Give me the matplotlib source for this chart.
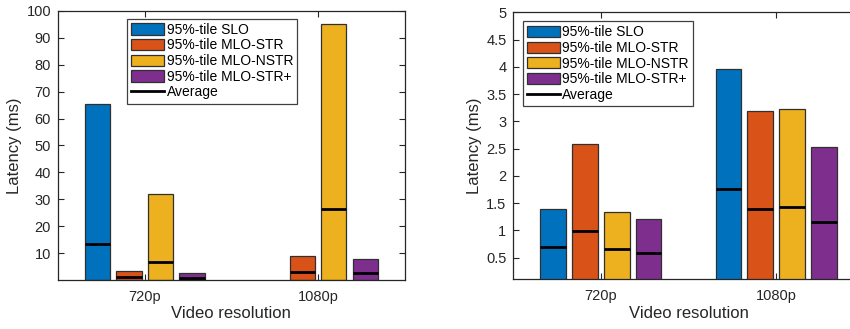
import numpy as np
import matplotlib
matplotlib.use("Agg")
import matplotlib.pyplot as plt
from matplotlib.patches import Patch
from matplotlib.lines import Line2D
from matplotlib.ticker import FuncFormatter

plt.rcParams['font.family'] = ['Liberation Sans', 'DejaVu Sans']

resolutions = ['720p', '1080p']
series = ['95%-tile SLO', '95%-tile MLO-STR', '95%-tile MLO-NSTR', '95%-tile MLO-STR+']
colors = ['#0072BD', '#D95319', '#EDB120', '#7E2F8E']

# End-to-end latency (ms): 95th percentile and average per scheme
p95_total = [
    [65.5, np.nan],   # SLO
    [3.5, 9.0],       # MLO-STR
    [31.9, 95.0],     # MLO-NSTR
    [2.5, 7.9],       # MLO-STR+
]
avg_total = [
    [13.5, np.nan],
    [1.1, 3.0],
    [6.7, 26.5],
    [0.55, 2.6],
]

# Processing latency (ms)
p95_proc = [
    [1.39, 3.96],
    [2.58, 3.19],
    [1.33, 3.23],
    [1.20, 2.52],
]
avg_proc = [
    [0.69, 1.755],
    [0.985, 1.395],
    [0.65, 1.42],
    [0.59, 1.157],
]

ink = '#262626'
fig = plt.figure(figsize=(8.5, 3.29), dpi=100)
ax1 = fig.add_axes([0.0682, 0.149, 0.408, 0.818])
ax2 = fig.add_axes([0.604, 0.151, 0.412, 0.8116])

n = len(series)
group_w = min(0.8, n / (n + 1.5))
step = group_w / n
bar_w = 0.8 * step
x = np.arange(1, len(resolutions) + 1)


def draw(ax, p95, avg, ylim, yticks, legend_anchor):
    for i in range(n):
        xs = x - group_w / 2 + step * (i + 0.5)
        ax.bar(xs, p95[i], width=bar_w, color=colors[i], edgecolor='#303030',
               linewidth=0.9, zorder=2)
        ax.hlines(avg[i], xs - bar_w / 2, xs + bar_w / 2, colors='black',
                  linewidth=2.0, zorder=3)
    ax.set_xlim(0.5, 2.5)
    ax.set_ylim(*ylim)
    ax.set_xticks(x)
    ax.set_xticklabels(resolutions)
    ax.set_yticks(yticks)
    ax.yaxis.set_major_formatter(FuncFormatter(lambda v, p: f'{v:g}'))
    ax.tick_params(direction='in', length=4, width=0.8, colors=ink,
                   labelsize=10.5, top=True, right=True)
    ax.tick_params(axis='x', pad=7)
    ax.tick_params(axis='y', pad=5)
    for s in ax.spines.values():
        s.set_color(ink)
        s.set_linewidth(0.9)
    ax.set_xlabel('Video resolution', fontsize=12, color=ink, labelpad=2)
    ax.set_ylabel('Latency (ms)', fontsize=12, color=ink, labelpad=3)
    handles = [Patch(facecolor=c, edgecolor='#303030', linewidth=0.9) for c in colors]
    handles.append(Line2D([], [], color='black', linewidth=2.0))
    leg = ax.legend(handles, series + ['Average'], loc='upper left',
                    bbox_to_anchor=legend_anchor, borderaxespad=0,
                    fontsize=10, handlelength=2.4, handleheight=0.85,
                    handletextpad=0.15, labelspacing=0.12, borderpad=0.3,
                    fancybox=False, framealpha=1)
    leg.get_frame().set_edgecolor('#404040')
    leg.get_frame().set_linewidth(0.9)


draw(ax1, p95_total, avg_total, (0, 100), np.arange(10, 101, 10), (0.199, 0.971))
draw(ax2, p95_proc, avg_proc, (0.1, 5), np.arange(0.5, 5.01, 0.5), (0.027, 0.967))

fig.savefig('out.png', dpi=100)
